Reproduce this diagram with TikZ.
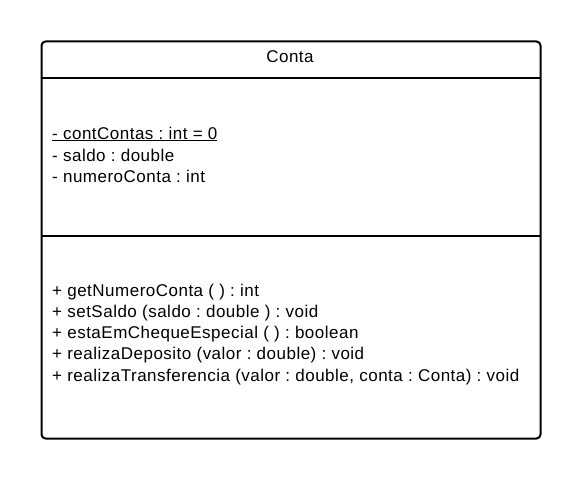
\documentclass[tikz,border=0pt]{standalone}
\usepackage{fontspec}
\setmainfont{Liberation Sans}[LetterSpace=2.9]
\begin{document}
\frenchspacing
\begin{tikzpicture}[x=1pt,y=-1pt,
  txt/.style={anchor=west,inner sep=0pt,font=\fontsize{17}{20}\selectfont},
  frame/.style={draw=black,line width=2pt,rounded corners=4pt}]
\useasboundingbox (0,0) rectangle (580,478);
\node[frame,minimum width=499pt,minimum height=397pt,anchor=north west,inner sep=0pt] (box) at (40.5,40.5) {};
\coordinate (d1l) at (40.5,78);
\coordinate (d1r) at (539.5,78);
\coordinate (d2l) at (40.5,236);
\coordinate (d2r) at (539.5,236);
\draw[line width=2pt] (d1l) -- (d1r);
\draw[line width=2pt] (d2l) -- (d2r);
\node[inner sep=0pt,font=\fontsize{17}{20}\selectfont] (title) at (290,57) {Conta};
\node[txt] (a1) at (52,134) {\underline{- contContas : int = 0}};
\node[txt] (a2) at (52,155) {- saldo : double};
\node[txt] (a3) at (52,176) {- numeroConta : int};
\node[txt] (m1) at (52,292) {+ getNumeroConta ( ) : int};
\node[txt] (m2) at (52,313) {+ setSaldo (saldo : double ) : void};
\node[txt] (m3) at (52,334) {+ estaEmChequeEspecial ( ) : boolean};
\node[txt] (m4) at (52,355) {+ realizaDeposito (valor : double) : void};
\node[txt] (m5) at (52,377) {+ realizaTransferencia (valor : double, conta : Conta) : void};
\end{tikzpicture}
\end{document}
